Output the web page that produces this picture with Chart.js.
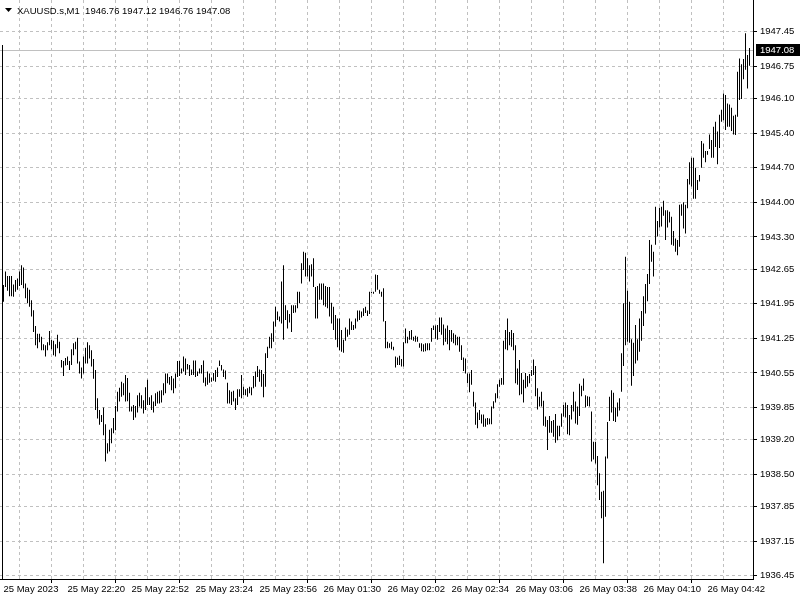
<!DOCTYPE html>
<html><head><meta charset="utf-8">
<script src="https://cdn.jsdelivr.net/npm/chart.js@4/dist/chart.umd.min.js"></script>
<style>html,body{margin:0;padding:0;background:#fff;}#wrap{position:relative;width:800px;height:600px;}</style>
</head><body><div id="wrap"><canvas id="c" width="800" height="600"></canvas></div>
<script>
const symbolTitle = "XAUUSD.s,M1";
const lastOHLC = ["1946.76", "1947.12", "1946.76", "1947.08"];
const lastPrice = 1947.08;
const timeLabels = ["25 May 2023","25 May 22:20","25 May 22:52","25 May 23:24","25 May 23:56","26 May 01:30","26 May 02:02","26 May 02:34","26 May 03:06","26 May 03:38","26 May 04:10","26 May 04:42"];
const priceTicks = ["1947.45","1946.75","1946.10","1945.40","1944.70","1944.00","1943.30","1942.65","1941.95","1941.25","1940.55","1939.85","1939.20","1938.50","1937.85","1937.15","1936.45"];

const highs = [
1942.33,1942.60,1942.51,1942.51,1942.51,1942.34,1942.43,1942.46,1942.60,1942.73,
1942.68,1942.36,1942.27,1942.23,1942.02,1941.82,1941.50,1941.34,1941.34,1941.28,
1941.13,1941.11,1941.17,1941.40,1941.22,1941.20,1941.13,1941.32,1941.18,1940.81,
1940.79,1940.85,1940.88,1940.79,1941.03,1941.15,1941.18,1941.26,1940.78,1940.66,
1940.88,1941.06,1941.17,1941.11,1941.01,1940.83,1940.61,1940.04,1939.80,1939.70,
1939.85,1939.51,1939.13,1939.40,1939.43,1939.64,1939.88,1940.17,1940.25,1940.37,
1940.34,1940.51,1940.45,1940.15,1939.87,1939.90,1939.88,1940.10,1940.15,1940.10,
1940.00,1940.26,1940.41,1940.06,1940.10,1939.97,1940.14,1940.17,1940.19,1940.20,
1940.34,1940.54,1940.54,1940.47,1940.49,1940.44,1940.54,1940.79,1940.79,1940.64,
1940.88,1940.84,1940.73,1940.71,1940.62,1940.80,1940.80,1940.58,1940.64,1940.71,
1940.80,1940.46,1940.58,1940.54,1940.46,1940.55,1940.61,1940.66,1940.80,1940.71,
1940.62,1940.60,1940.35,1940.20,1940.17,1940.19,1940.04,1940.22,1940.22,1940.51,
1940.27,1940.22,1940.24,1940.27,1940.26,1940.49,1940.58,1940.69,1940.62,1940.61,
1940.53,1940.95,1941.08,1941.28,1941.35,1941.59,1941.89,1941.79,1941.69,1942.40,
1942.73,1941.92,1941.82,1941.74,1941.92,1941.92,1941.92,1942.19,1942.19,1942.77,
1943.00,1942.98,1942.87,1942.73,1942.75,1942.87,1942.29,1942.31,1942.36,1942.36,
1942.36,1942.31,1942.29,1942.29,1941.97,1941.89,1941.72,1941.65,1941.65,1941.42,
1941.22,1941.47,1941.43,1941.65,1941.59,1941.52,1941.65,1941.81,1941.81,1941.79,
1941.86,1941.89,1941.81,1942.19,1942.19,1942.19,1942.54,1942.53,1942.23,1942.19,
1942.26,1941.60,1941.18,1941.15,1941.18,1941.08,1940.88,1940.86,1940.90,1940.83,
1941.17,1941.45,1941.28,1941.40,1941.42,1941.28,1941.30,1941.28,1941.15,1941.15,
1941.13,1941.15,1941.15,1941.15,1941.46,1941.51,1941.51,1941.52,1941.67,1941.67,
1941.53,1941.45,1941.51,1941.42,1941.42,1941.35,1941.32,1941.28,1941.28,1941.11,
1940.86,1940.84,1940.54,1940.54,1940.61,1940.17,1939.95,1939.75,1939.80,1939.71,
1939.71,1939.63,1939.64,1939.63,1939.87,1939.98,1940.14,1940.32,1940.41,1940.45,
1941.20,1941.42,1941.65,1941.38,1941.42,1941.36,1941.11,1940.64,1940.81,1940.55,
1940.41,1940.55,1940.49,1940.53,1940.61,1940.82,1940.69,1940.24,1940.07,1940.17,
1939.99,1939.67,1939.60,1939.68,1939.58,1939.60,1939.72,1939.48,1939.48,1939.73,
1939.90,1939.95,1939.90,1939.70,1939.90,1940.17,1939.97,1939.87,1940.33,1940.29,
1940.44,1940.10,1940.08,1940.07,1939.77,1939.16,1939.16,1938.87,1938.52,1938.15,
1938.17,1938.86,1939.56,1940.07,1940.20,1940.15,1939.85,1939.95,1940.04,1940.95,
1941.96,1942.90,1942.21,1941.99,1941.23,1941.16,1941.52,1941.23,1941.65,1941.80,
1942.10,1942.35,1942.55,1943.24,1943.14,1943.00,1943.91,1943.62,1943.89,1943.91,
1944.03,1943.84,1943.84,1943.81,1943.71,1943.42,1943.27,1943.24,1943.95,1943.96,
1944.00,1943.95,1944.47,1944.81,1944.90,1944.90,1944.70,1944.45,1944.55,1945.24,
1945.19,1945.04,1945.04,1945.37,1945.26,1945.53,1945.63,1945.43,1945.77,1945.87,
1946.20,1946.17,1946.00,1945.98,1945.91,1945.75,1945.77,1946.64,1946.91,1946.79,
1946.90,1947.42,1946.98,1947.12
];
const lows = [
1941.99,1942.29,1942.21,1942.10,1942.10,1942.09,1942.19,1942.23,1942.31,1942.33,
1942.26,1942.06,1941.96,1941.89,1941.69,1941.38,1941.11,1941.05,1941.17,1941.01,
1941.01,1940.88,1941.01,1941.11,1941.03,1940.91,1940.88,1941.05,1940.95,1940.66,
1940.49,1940.70,1940.71,1940.61,1940.71,1940.91,1941.03,1940.74,1940.54,1940.44,
1940.54,1940.74,1940.74,1940.84,1940.68,1940.43,1939.80,1939.63,1939.50,1939.56,
1939.29,1938.76,1938.92,1938.96,1939.13,1939.33,1939.39,1939.77,1939.97,1940.07,
1940.10,1939.97,1939.98,1939.77,1939.77,1939.60,1939.65,1939.75,1939.87,1939.83,
1939.73,1939.80,1939.90,1939.90,1939.80,1939.75,1939.88,1939.93,1939.93,1939.95,
1940.10,1940.14,1940.34,1940.31,1940.20,1940.14,1940.24,1940.47,1940.49,1940.54,
1940.58,1940.51,1940.62,1940.49,1940.51,1940.51,1940.47,1940.49,1940.54,1940.54,
1940.35,1940.28,1940.31,1940.35,1940.37,1940.39,1940.37,1940.47,1940.69,1940.60,
1940.47,1940.42,1939.93,1939.93,1939.90,1939.97,1939.80,1939.90,1940.07,1940.04,
1940.10,1940.10,1940.07,1940.14,1940.10,1940.24,1940.27,1940.47,1940.37,1940.27,
1940.06,1940.27,1940.85,1941.05,1941.05,1941.18,1941.49,1941.62,1941.59,1941.55,
1941.22,1941.62,1941.45,1941.57,1941.38,1941.76,1941.77,1941.86,1941.96,1942.36,
1942.63,1942.50,1942.50,1942.40,1942.50,1942.29,1941.65,1941.65,1942.03,1942.03,
1941.92,1941.89,1941.86,1941.69,1941.55,1941.42,1941.22,1941.07,1941.01,1940.98,
1940.96,1941.20,1941.28,1941.32,1941.42,1941.42,1941.45,1941.59,1941.62,1941.67,
1941.70,1941.76,1941.70,1941.74,1942.16,1942.15,1942.19,1942.23,1942.15,1942.09,
1941.59,1941.05,1941.05,1941.06,1941.03,1941.01,1940.66,1940.71,1940.71,1940.68,
1940.68,1941.15,1941.15,1941.22,1941.22,1941.20,1941.18,1941.18,1941.06,1940.99,
1940.98,1940.99,1941.01,1941.01,1941.18,1941.42,1941.24,1941.22,1941.38,1941.32,
1941.11,1941.18,1941.13,1941.01,1941.18,1941.15,1941.11,1941.11,1940.98,1940.81,
1940.59,1940.54,1940.34,1940.16,1940.31,1939.87,1939.50,1939.43,1939.60,1939.53,
1939.46,1939.46,1939.50,1939.51,1939.51,1939.83,1939.95,1940.04,1940.27,1940.31,
1940.31,1941.03,1941.01,1941.11,1941.08,1941.01,1940.34,1940.31,1940.10,1940.12,
1939.95,1940.24,1940.27,1940.34,1940.49,1940.51,1940.08,1939.81,1939.87,1939.87,
1939.48,1939.46,1938.99,1939.34,1939.34,1939.26,1939.14,1939.19,1939.27,1939.46,
1939.67,1939.65,1939.31,1939.29,1939.61,1939.77,1939.53,1939.50,1939.68,1940.08,
1940.19,1939.85,1939.88,1939.87,1938.76,1938.80,1938.72,1938.28,1937.98,1937.61,
1936.70,1937.64,1938.82,1939.58,1939.75,1939.58,1939.56,1939.67,1939.79,1940.17,
1940.69,1941.11,1941.18,1941.16,1940.29,1940.49,1940.74,1940.80,1940.98,1941.20,
1941.50,1941.75,1942.00,1942.35,1942.80,1942.50,1943.14,1943.31,1943.49,1943.51,
1943.73,1943.24,1943.49,1943.59,1943.14,1943.12,1943.00,1942.93,1943.10,1943.73,
1943.47,1943.37,1943.88,1944.36,1944.32,1944.07,1944.07,1944.25,1944.42,1944.70,
1944.90,1944.81,1944.96,1945.08,1944.90,1944.90,1945.12,1944.77,1945.10,1945.63,
1945.66,1945.46,1945.53,1945.53,1945.44,1945.37,1945.36,1945.73,1946.07,1946.09,
1946.49,1946.68,1946.30,1946.76
];

const FONT = {family: "'Liberation Sans', Arial, sans-serif", size: 9.5};
const BAR_STEP = 16;           // grid every 16 bars, label every 32
const xTickIdx = [];
for (let v = 0; v < highs.length; v += BAR_STEP) xTickIdx.push(v);

// y range so that 1947.45 and 1936.45 fall on the same pixels as the reference
const PX_PER_UNIT = 544 / 11;
const yMax = 1947.45 + 31.7 / PX_PER_UNIT;
const yMin = 1936.45 - 3.3 / PX_PER_UNIT;

const overlay = {
  id: 'overlay',
  beforeDatasetsDraw(chart) {
    const {ctx, chartArea, scales} = chart;
    const y = Math.round(scales.y.getPixelForValue(lastPrice)) + 0.5;
    ctx.save();
    ctx.strokeStyle = '#c0c0c0';
    ctx.lineWidth = 1;
    ctx.beginPath();
    ctx.moveTo(chartArea.left, y);
    ctx.lineTo(chartArea.right, y);
    ctx.stroke();
    // vertical black line at the first bar
    const x0 = Math.floor(scales.x.getPixelForValue(0)) - 0.5;
    ctx.strokeStyle = '#000';
    ctx.beginPath();
    ctx.moveTo(x0, 45);
    ctx.lineTo(x0, chartArea.bottom);
    ctx.stroke();
    ctx.restore();
  },
  afterDraw(chart) {
    const {ctx, scales} = chart;
    ctx.save();
    // header
    ctx.fillStyle = '#000';
    ctx.beginPath();
    ctx.moveTo(5, 8); ctx.lineTo(12, 8); ctx.lineTo(8.5, 12); ctx.closePath();
    ctx.fill();
    ctx.font = "9.5px 'Liberation Sans', Arial, sans-serif";
    ctx.textBaseline = 'alphabetic';
    ctx.textAlign = 'left';
    ctx.fillText(symbolTitle + "  " + lastOHLC.join(" "), 17, 14);
    // last price tag
    const y = scales.y.getPixelForValue(lastPrice);
    ctx.fillStyle = '#000';
    ctx.fillRect(756, Math.round(y) - 6, 44, 12);
    ctx.fillStyle = '#fff';
    ctx.textBaseline = 'middle';
    ctx.fillText(lastOHLC[3], 760, Math.round(y) + 0.5);
    ctx.restore();
  }
};

new Chart(document.getElementById('c'), {
  type: 'bar',
  data: {
    datasets: [{
      data: highs.map((h, i) => ({x: i, y: [lows[i], h]})),
      backgroundColor: '#000',
      borderWidth: 0,
      barThickness: 1,
      inflateAmount: 0,
      borderSkipped: false
    }]
  },
  options: {
    responsive: false,
    animation: false,
    devicePixelRatio: 1,
    layout: {padding: 0},
    plugins: {legend: {display: false}, tooltip: {enabled: false}, title: {display: false}},
    scales: {
      x: {
        type: 'linear', position: 'bottom', offset: false,
        min: -1.75, max: highs.length + 0.75,
        afterBuildTicks: s => { s.ticks = xTickIdx.map(v => ({value: v})); },
        afterFit: s => { s.height = 21; s.paddingLeft = 0; s.paddingRight = 0; },
        ticks: {
          autoSkip: false, maxRotation: 0, minRotation: 0, align: 'start', padding: 1,
          color: '#000', font: FONT,
          callback: v => (v % 32 === 0 ? timeLabels[v / 32] : '')
        },
        grid: {
          color: c => (c.index === 0 ? 'rgba(0,0,0,0)' : '#c0c0c0'),
          lineWidth: 1, drawTicks: true, tickLength: 4,
          tickColor: c => (c.index % 2 === 0 ? '#000' : 'rgba(0,0,0,0)')
        },
        border: {display: true, color: '#000', width: 1, dash: [3, 3]}
      },
      y: {
        type: 'linear', position: 'right',
        min: yMin, max: yMax,
        afterBuildTicks: s => { s.ticks = priceTicks.map(t => ({value: parseFloat(t)})); },
        afterFit: s => { s.width = 47; s.paddingTop = 0; s.paddingBottom = 0; },
        ticks: {color: '#000', font: FONT, padding: 3, callback: (v, i) => priceTicks[i]},
        grid: {color: '#c0c0c0', lineWidth: 1, tickColor: '#000', tickLength: 4},
        border: {display: true, color: '#000', width: 1, dash: [3, 3]}
      }
    }
  },
  plugins: [overlay]
});
</script>
</body></html>
